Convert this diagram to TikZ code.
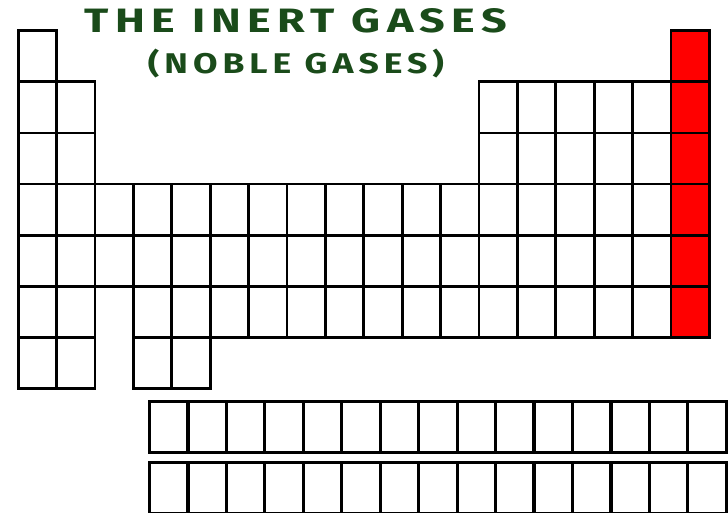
\documentclass[tikz,border=0pt]{standalone}
\usepackage{graphicx}
\usepackage{fontspec}
\setmainfont{Fira Sans}
\usepackage{tikz}
\usetikzlibrary{positioning}
\definecolor{titlegreen}{HTML}{1A4B1A}
\definecolor{gasred}{HTML}{FF0000}
\begin{document}
\begin{tikzpicture}[
    x=1pt, y=-1pt,
    cell/.style={rectangle, draw, line width=2.8pt, fill=white, inner sep=0pt, outer sep=0pt, minimum width=38.39pt, minimum height=51.1pt},
    fcell/.style={cell, line width=3.2pt, minimum width=38.45pt, minimum height=51pt},
    title/.style={text=titlegreen, font=\bfseries\addfontfeatures{LetterSpace=14}, inner sep=0pt}
]
\useasboundingbox (0,0) rectangle (728,512);
% main table, one period per row
\foreach \r/\cols in {1/{1,18}, 2/{1,2,13,14,...,18}, 3/{1,2,13,14,...,18}, 4/{1,...,18}, 5/{1,...,18}, 6/{1,2,4,5,...,18}, 7/{1,2,4,5}}{
  \foreach \c in \cols{
    \ifnum\c=18 \def\cellfill{gasred}\else\def\cellfill{white}\fi
    \node[cell, fill=\cellfill] (p\r g\c) at ({18.3+(\c-0.5)*38.39}, {30.7+(\r-0.5)*51.1}) {};
  }
}
% the two rows below the table
\foreach \r/\y in {1/401.5, 2/462.5}{
  \foreach \c in {1,...,15}{
    \node[fcell] (f\r c\c) at ({149.5+(\c-0.5)*38.45}, {\y+25.5}) {};
  }
}
\node[title] (title) at (296,21) {\resizebox{422pt}{24pt}{THE INERT GASES}};
\node[title, below=15pt of title] (subtitle) {\resizebox*{296pt}{29pt}{(NOBLE GASES)}};
\end{tikzpicture}
\end{document}
